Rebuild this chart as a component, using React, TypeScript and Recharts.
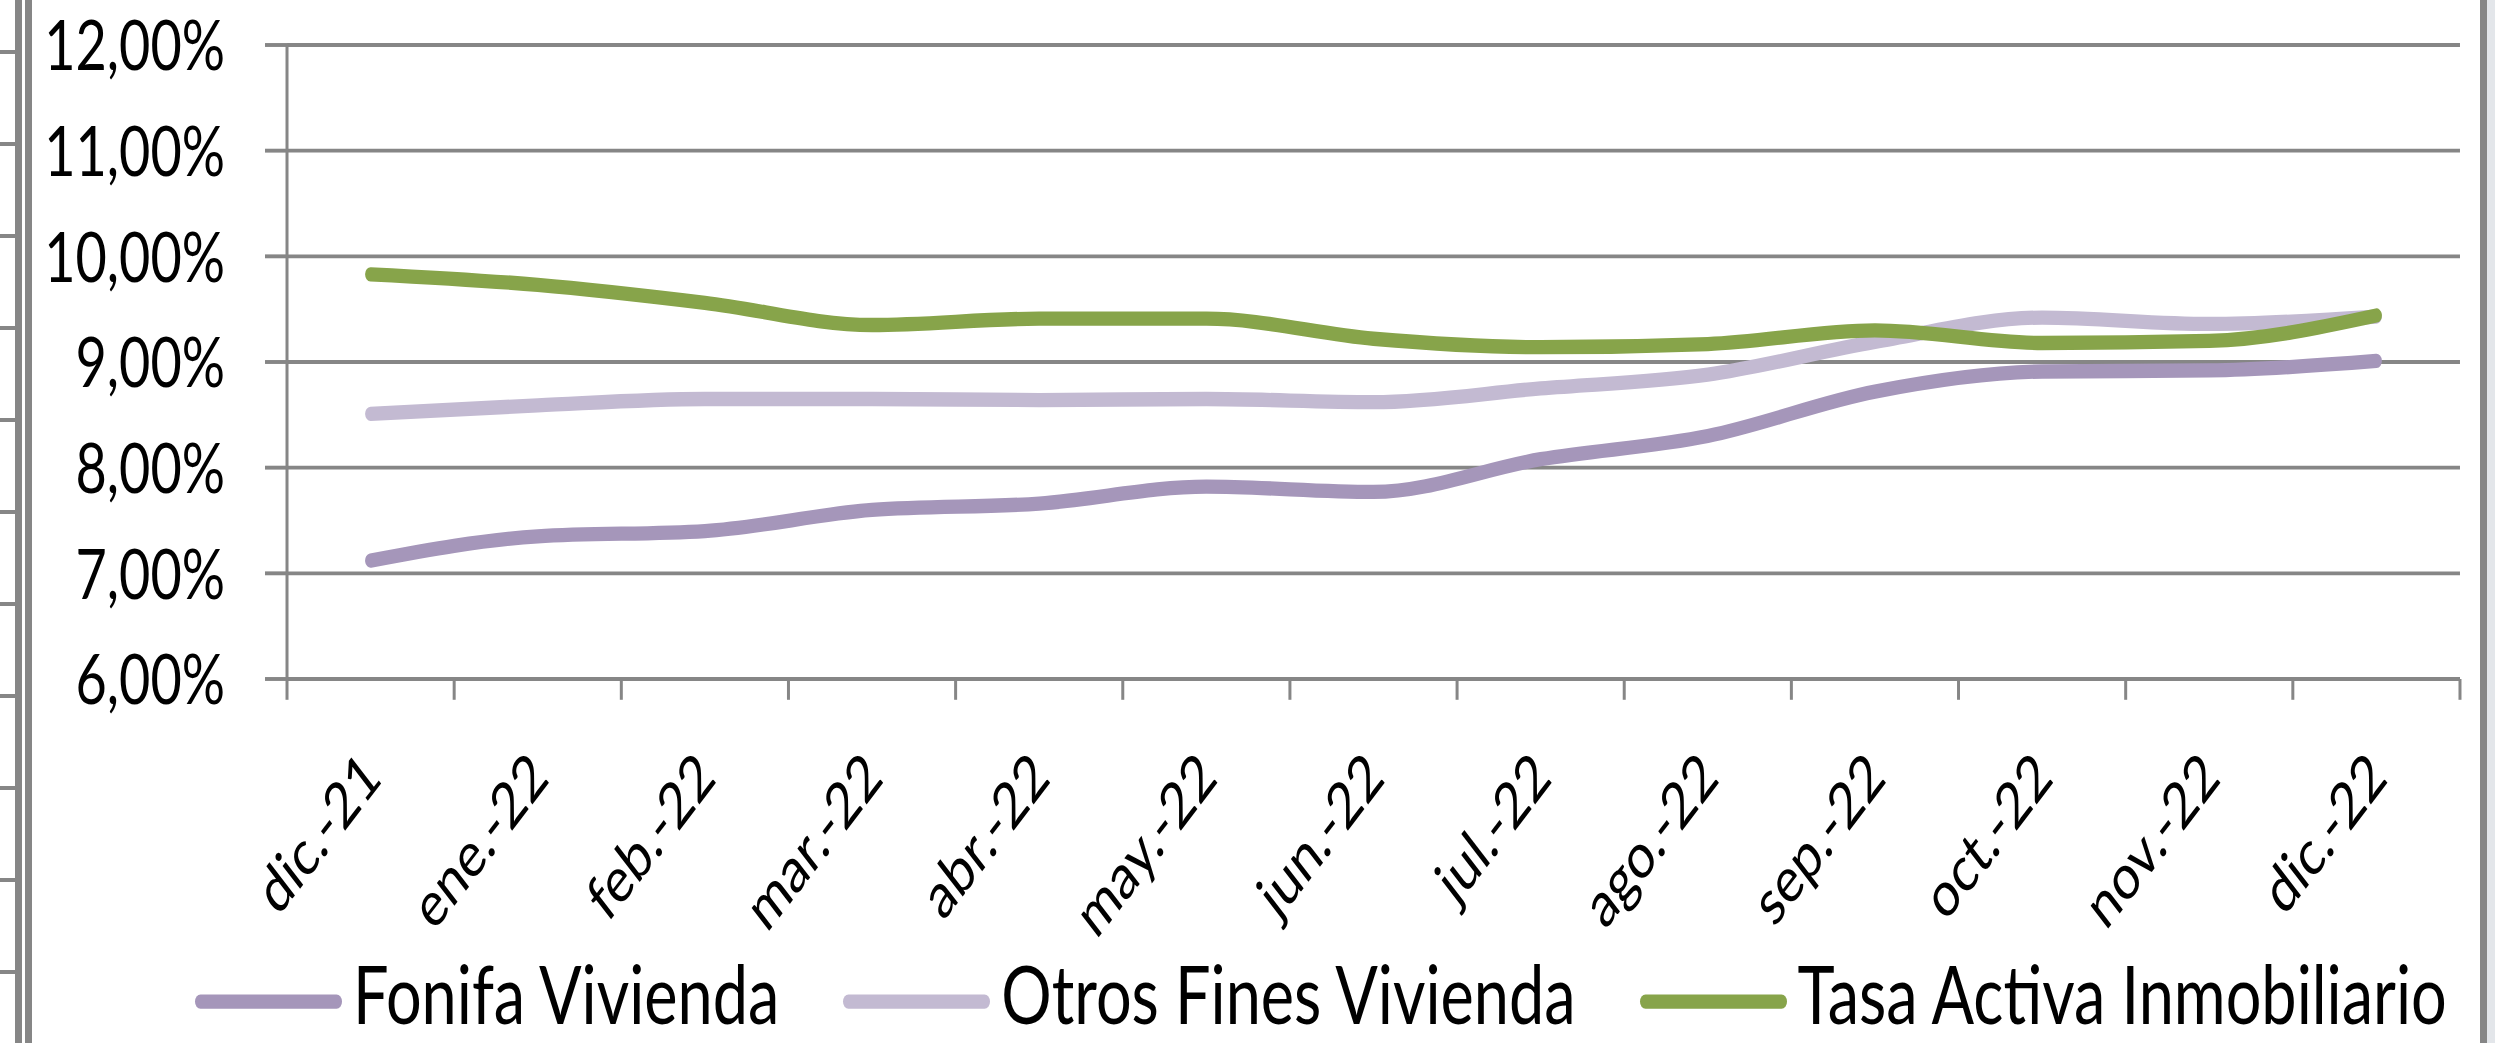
import { LineChart, Line, XAxis, YAxis, CartesianGrid, Legend } from "recharts";

// the source image is stretched vertically, so the whole chart is drawn squat and scaled back up
const STRETCH = 1.3;
const WIDTH = 2495;
const HEIGHT = 1043 / STRETCH;

const PLOT_LEFT = 287;
const PLOT_RIGHT = 35;
const PLOT_TOP = 45 / STRETCH;
const PLOT_BOTTOM = (1043 - 679) / STRETCH;

const GRID = "#868686";
const FONT = "Lato, 'Open Sans', sans-serif";

const months = [
  "dic.-21",
  "ene.-22",
  "feb.-22",
  "mar.-22",
  "abr.-22",
  "may.-22",
  "jun.-22",
  "jul.-22",
  "ago.-22",
  "sep.-22",
  "oct.-22",
  "nov.-22",
  "dic.-22",
];

const fonifaVivienda = [7.12, 7.35, 7.4, 7.6, 7.66, 7.82, 7.77, 8.08, 8.3, 8.72, 8.91, 8.92, 9.01];
const otrosFinesVivienda = [8.51, 8.59, 8.65, 8.65, 8.64, 8.65, 8.62, 8.75, 8.88, 9.19, 9.42, 9.36, 9.43];
const tasaActivaInmobiliario = [9.83, 9.73, 9.56, 9.35, 9.41, 9.41, 9.22, 9.14, 9.17, 9.3, 9.18, 9.2, 9.44];

const yTicks = [6, 7, 8, 9, 10, 11, 12];

const series = [
  { key: "fonifa", name: "Fonifa Vivienda", color: "#A596BA" },
  { key: "otros", name: "Otros Fines Vivienda", color: "#C3BAD2" },
  { key: "tasa", name: "Tasa Activa Inmobiliario", color: "#87A44A" },
];

const data = months.map((month, i) => ({
  month,
  fonifa: fonifaVivienda[i],
  otros: otrosFinesVivienda[i],
  tasa: tasaActivaInmobiliario[i],
}));

const BAND = (WIDTH - PLOT_LEFT - PLOT_RIGHT) / months.length;

const formatRate = (v: number) => `${v.toFixed(2).replace(".", ",")}%`;

function MonthTick({ x, y, payload, index }: any) {
  const i = index ?? payload.index;
  const isLast = i === months.length - 1;
  return (
    <g>
      <line x1={x - BAND / 2} x2={x - BAND / 2} y1={y} y2={y + 16} stroke={GRID} strokeWidth={3} />
      {isLast && (
        <line x1={x + BAND / 2} x2={x + BAND / 2} y1={y} y2={y + 16} stroke={GRID} strokeWidth={3} />
      )}
      <text
        x={0}
        y={0}
        transform={`translate(${x + 13},${y + 78}) rotate(-45)`}
        textAnchor="end"
        fontSize={49}
        fontFamily={FONT}
        fill="#000"
      >
        {payload.value}
      </text>
    </g>
  );
}

function RateTick({ x, y, payload }: any) {
  return (
    <g>
      <line x1={x - 22} x2={x} y1={y} y2={y} stroke={GRID} strokeWidth={3} />
      <text
        x={x - 62}
        y={y}
        dy="0.36em"
        textAnchor="end"
        fontSize={54}
        fontFamily={FONT}
        fill="#000"
      >
        {formatRate(payload.value)}
      </text>
    </g>
  );
}

function LegendItems() {
  return (
    <div
      style={{
        display: "flex",
        alignItems: "center",
        height: 63,
        paddingLeft: 195,
        fontFamily: FONT,
        fontSize: 63,
        lineHeight: 1,
        color: "#000",
        whiteSpace: "nowrap",
      }}
    >
      {series.map((s) => (
        <div key={s.key} style={{ display: "flex", alignItems: "center", marginRight: 64 }}>
          <span
            style={{
              display: "inline-block",
              width: 147,
              height: 11,
              borderRadius: 6,
              background: s.color,
              marginRight: 11,
              marginTop: 14,
            }}
          />
          <span>{s.name}</span>
        </div>
      ))}
    </div>
  );
}

function Frame() {
  const marks = [52, 144, 236, 328, 420, 512, 604, 696, 788, 880, 972];
  return (
    <>
      <div style={{ position: "absolute", left: 15, top: 0, width: 7, height: 1043, background: GRID }} />
      <div style={{ position: "absolute", left: 25, top: 0, width: 7, height: 1043, background: GRID }} />
      {marks.map((m) => (
        <div key={m} style={{ position: "absolute", left: 0, top: m - 2, width: 15, height: 4, background: GRID }} />
      ))}
      <div style={{ position: "absolute", left: 2480, top: 0, width: 7, height: 1043, background: GRID }} />
      <div style={{ position: "absolute", left: 2487, top: 0, width: 8, height: 1043, background: "#E3E6EA" }} />
    </>
  );
}

export default function App() {
  return (
    <div style={{ position: "absolute", left: 0, top: 0, width: WIDTH, height: 1043, background: "#fff", overflow: "hidden" }}>
      <div
        style={{
          position: "absolute",
          left: 0,
          top: 0,
          width: WIDTH,
          height: HEIGHT,
          transform: `scaleY(${STRETCH})`,
          transformOrigin: "0 0",
        }}
      >
        <LineChart
          width={WIDTH}
          height={HEIGHT}
          data={data}
          margin={{ top: PLOT_TOP, right: PLOT_RIGHT, bottom: 0, left: 0 }}
        >
          <CartesianGrid vertical={false} stroke={GRID} strokeWidth={3} />
          <XAxis
            dataKey="month"
            height={PLOT_BOTTOM}
            padding={{ left: BAND / 2, right: BAND / 2 }}
            interval={0}
            tickSize={0}
            tickMargin={0}
            tickLine={false}
            axisLine={{ stroke: GRID, strokeWidth: 3 }}
            tick={<MonthTick />}
          />
          <YAxis
            width={PLOT_LEFT}
            domain={[6, 12]}
            ticks={yTicks}
            interval={0}
            tickSize={0}
            tickMargin={0}
            tickLine={false}
            axisLine={{ stroke: GRID, strokeWidth: 3 }}
            tick={<RateTick />}
          />
          <Legend
            layout="horizontal"
            align="center"
            verticalAlign="middle"
            content={() => <LegendItems />}
            wrapperStyle={{ left: 0, top: 732, width: WIDTH, height: 63 }}
          />
          {series.map((s) => (
            <Line
              key={s.key}
              type="monotone"
              dataKey={s.key}
              name={s.name}
              stroke={s.color}
              strokeWidth={11}
              strokeLinecap="round"
              dot={false}
              activeDot={false}
              isAnimationActive={false}
            />
          ))}
        </LineChart>
      </div>
      <Frame />
    </div>
  );
}
